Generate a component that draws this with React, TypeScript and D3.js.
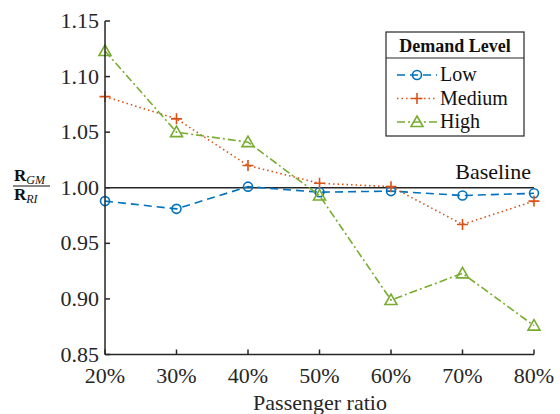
import React, { useEffect, useRef } from "react";
import * as d3 from "d3";

const categories = [20, 30, 40, 50, 60, 70, 80];
const lowValues = [0.988, 0.981, 1.001, 0.996, 0.997, 0.993, 0.995];
const mediumValues = [1.082, 1.062, 1.02, 1.004, 1.001, 0.967, 0.988];
const highValues = [1.123, 1.05, 1.041, 0.993, 0.899, 0.923, 0.876];
const yTicks = [0.85, 0.9, 0.95, 1.0, 1.05, 1.1, 1.15];
const seriesNames = ["Low", "Medium", "High"];

const W = 560;
const H = 414;
const AX = "#262626";
const SERIF = "Liberation Serif, Tinos, Times New Roman, serif";

const series = [
  { name: seriesNames[0], values: lowValues, color: "#0072BD", dash: "8,5", marker: "circle" },
  { name: seriesNames[1], values: mediumValues, color: "#D95319", dash: "1.5,3", marker: "plus" },
  { name: seriesNames[2], values: highValues, color: "#77AC30", dash: "8,3,2,3", marker: "triangle" },
];

function Marker({ type, x, y, color }: { type: string; x: number; y: number; color: string }) {
  if (type === "circle") return <circle cx={x} cy={y} r={4.5} fill="none" stroke={color} strokeWidth={1.6} />;
  if (type === "plus")
    return (
      <path d={`M${x - 5.5},${y}H${x + 5.5}M${x},${y - 5.5}V${y + 5.5}`} stroke={color} strokeWidth={1.6} fill="none" />
    );
  const s = 6;
  return (
    <path
      d={`M${x},${y - s}L${x + s},${y + s * 0.75}L${x - s},${y + s * 0.75}Z`}
      fill="none"
      stroke={color}
      strokeWidth={1.6}
    />
  );
}

export default function App() {
  const ref = useRef<SVGSVGElement>(null);
  const x = d3.scaleLinear().domain([20, 80]).range([105, 534]);
  const y = d3.scaleLinear().domain([0.85, 1.15]).range([354.5, 21]);
  const line = d3
    .line<number>()
    .x((_, i) => x(categories[i]))
    .y((d) => y(d));

  useEffect(() => {
    document.body.style.fontFamily = SERIF;
    if (ref.current) {
      d3.select(ref.current)
        .selectAll("text")
        .attr("font-family", SERIF)
        .style("font-family", SERIF, "important");
    }
  }, []);

  return (
    <svg ref={ref} width={W} height={H} style={{ position: "absolute", left: 0, top: 0, background: "#fff" }}>
      <rect width={W} height={H} fill="#fff" />
      {/* baseline */}
      <line x1={x(20)} x2={x(80)} y1={y(1)} y2={y(1)} stroke={AX} strokeWidth={1.5} />
      <text x={531} y={179} textAnchor="end" fontSize={22} fill="#111">
        Baseline
      </text>

      {/* series */}
      {series.map((s) => (
        <g key={s.name}>
          <path d={line(s.values) || ""} fill="none" stroke={s.color} strokeWidth={1.6} strokeDasharray={s.dash} />
          {s.values.map((v, i) => (
            <Marker key={i} type={s.marker} x={x(categories[i])} y={y(v)} color={s.color} />
          ))}
        </g>
      ))}

      {/* axes */}
      <line x1={x(20)} x2={x(20)} y1={y(1.15)} y2={y(0.85)} stroke={AX} strokeWidth={1.5} />
      <line x1={x(20)} x2={x(80)} y1={y(0.85)} y2={y(0.85)} stroke={AX} strokeWidth={1.5} />
      {yTicks.map((t) => (
        <g key={t}>
          <line x1={x(20)} x2={x(20) + 5} y1={y(t)} y2={y(t)} stroke={AX} strokeWidth={1.5} />
          <text x={99} y={y(t) + 7} textAnchor="end" fontSize={22} fill="#262626">
            {t.toFixed(2)}
          </text>
        </g>
      ))}
      {categories.map((c) => (
        <g key={c}>
          <line x1={x(c)} x2={x(c)} y1={y(0.85)} y2={y(0.85) - 5} stroke={AX} strokeWidth={1.5} />
          <text x={x(c)} y={383} textAnchor="middle" fontSize={22} fill="#262626">
            {c}%
          </text>
        </g>
      ))}
      <text x={320} y={410} textAnchor="middle" fontSize={22} fill="#262626">
        Passenger ratio
      </text>

      {/* y label fraction */}
      <g fill="#111">
        <text x={14} y={181} fontSize={17}>
          <tspan fontWeight="bold">R</tspan>
          <tspan fontStyle="italic" fontSize={12} dy={3}>GM</tspan>
        </text>
        <line x1={13} x2={50} y1={186} y2={186} stroke="#111" strokeWidth={1} />
        <text x={14} y={200} fontSize={17}>
          <tspan fontWeight="bold">R</tspan>
          <tspan fontStyle="italic" fontSize={12} dy={3}>RI</tspan>
        </text>
      </g>

      {/* legend */}
      <g>
        <rect x={386} y={32} width={138} height={104} fill="#fff" stroke={AX} strokeWidth={1.2} />
        <line x1={386} x2={524} y1={58} y2={58} stroke={AX} strokeWidth={1.2} />
        <text x={455} y={52} textAnchor="middle" fontSize={18} fontWeight="bold" fill="#111">
          Demand Level
        </text>
        {series.map((s, i) => {
          const ly = 75 + i * 23.5;
          return (
            <g key={s.name}>
              <line x1={397} x2={437} y1={ly} y2={ly} stroke={s.color} strokeWidth={1.6} strokeDasharray={s.dash} />
              <Marker type={s.marker} x={417} y={ly} color={s.color} />
              <text x={440} y={ly + 6} fontSize={20} fill="#111">
                {s.name}
              </text>
            </g>
          );
        })}
      </g>
    </svg>
  );
}
